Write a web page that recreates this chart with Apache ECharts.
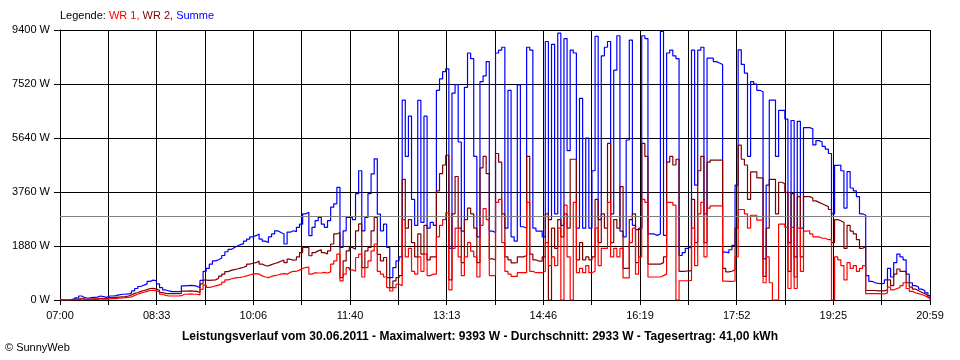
<!DOCTYPE html>
<html>
<head>
<meta charset="utf-8">
<script src="https://cdn.jsdelivr.net/npm/echarts@6/dist/echarts.min.js"></script>
<style>
html,body{margin:0;padding:0;background:#fff;}
#chart{width:960px;height:360px;}
</style>
</head>
<body>
<div id="chart"></div>
<script>
// Time slots: every 3 minutes from 07:00, last point at 20:59 (839 min)
const STEP_MIN = 3;
const END_MIN = 839;
const xTickLabels = ['07:00','08:33','10:06','11:40','13:13','14:46','16:19','17:52','19:25','20:59'];
const yMax = 9400;
const yInterval = 1880;
const average = 2933;

// Summe (W)
const summe = [
0,0,0,20,80,60,140,80,60,80,
90,100,140,120,90,140,140,150,180,200,
200,210,240,315,400,470,520,560,650,690,
670,560,430,350,315,290,290,290,300,490,
500,510,500,480,430,680,1000,1100,1250,1360,
1400,1460,1550,1680,1760,1820,1880,1930,1960,2050,
2120,2200,2240,2300,2120,2050,2000,2200,2300,2410,
2350,2300,1950,2360,2410,2380,2530,2640,3000,3050,
2240,2530,2760,2875,2640,2530,2760,3230,3350,3920,
1830,2410,2875,2875,2800,3700,4500,2410,2875,3700,
4390,4915,2990,2410,2640,1830,780,1130,1360,1500,
6960,5000,6400,3500,2600,6950,2700,6400,2500,2700,
2600,7300,7700,7950,8050,1800,7200,7500,5500,2400,
7400,8600,8400,5000,2200,7600,7800,8300,2400,2350,
8600,8700,8800,2500,7300,2200,2050,7490,2550,2500,
8800,8700,2500,2400,2400,2200,9000,2800,8900,3000,
9290,2600,9100,5200,8700,8600,2500,7020,2500,5640,
2500,4500,9180,2800,8500,8800,9000,3000,8000,9200,
2400,2200,5570,9050,2600,2450,2500,9200,9100,2300,
2300,2250,2300,9350,2250,8600,8700,8500,8400,1550,
1650,1800,1850,8700,4000,8700,8800,3000,8420,8420,
8300,8250,8200,1670,1640,1750,1900,4000,8710,8200,
7900,5000,7600,7520,7300,7250,1430,4000,6960,6960,
5000,6600,6600,6300,2000,6250,1500,6220,2500,6000,
6000,5960,5400,5550,5500,5350,5250,5100,3000,4690,
4700,4500,3200,4470,3900,3800,3600,3000,2950,850,
650,600,580,570,580,700,1100,800,1300,1600,
1500,1400,900,600,500,450,380,330,250,150,
60
];

// WR 2 (W) - dark red
const wr2 = [
0,0,0,0,30,20,60,30,20,30,
40,40,60,50,50,80,80,90,100,110,
120,140,180,230,260,300,330,360,400,410,
380,340,260,230,220,220,220,220,230,310,
310,320,310,300,260,560,690,680,690,700,
760,830,900,990,1030,1060,1080,1110,1140,1180,
1250,1280,1300,1360,1250,1200,1190,1230,1270,1300,
1350,1390,1300,1420,1390,1400,1500,1650,1830,1830,
1540,1650,1710,1750,1650,1600,1710,1950,2300,2350,
780,1360,1710,1830,1770,2410,2650,1130,1710,1830,
2410,2875,1590,1360,1480,780,430,664,780,850,
4200,2500,2800,2000,1500,2300,1600,2600,1400,1500,
1500,3800,4400,4700,5040,700,3000,4300,2500,1300,
2800,3200,3000,2500,1300,4600,5000,4400,1430,1400,
5100,4800,3000,1500,1400,1290,1300,1500,1500,1550,
5000,1600,1400,1350,1350,1500,3000,0,2500,1800,
2800,2200,3000,2500,4900,4900,1400,2000,1400,1500,
1400,1500,3500,2000,3000,2500,5450,2000,2800,2500,
3950,1100,1100,2800,3000,1300,2500,5450,5000,1250,
1250,1250,1250,1300,1500,4800,5000,4700,4900,1000,
1000,1013,1013,3500,2000,4500,5000,2000,4800,4870,
4870,4870,4870,1100,980,1000,1050,2500,5390,4900,
4700,3500,4460,4460,4250,4250,820,2500,4200,4200,
3000,4100,4050,3750,1000,3700,800,3600,1500,3600,
3600,3550,3450,3400,3350,3300,3250,3150,2000,2800,
2760,2700,1800,2600,2400,2300,2100,1800,1850,330,
330,330,320,320,320,350,700,500,900,1080,
1000,1000,600,450,380,320,270,220,160,80,
30
];

// WR 1 (W) - red
const wr1 = [
0,0,0,0,20,10,40,20,10,20,
20,20,40,30,30,40,50,50,60,70,
80,90,110,160,200,240,270,300,330,340,
320,280,200,160,140,140,140,140,150,200,
200,210,200,200,180,370,520,440,460,490,
520,550,620,700,730,760,780,790,810,840,
870,900,920,900,840,800,780,820,850,870,
900,920,900,960,1000,1000,1040,1100,1130,1150,
900,950,940,940,960,940,980,1250,1360,1600,
664,900,1130,1050,1000,1480,1600,800,1130,1360,
1710,1950,1000,900,800,430,314,430,550,500,
2800,1500,1800,1000,900,1500,1000,1600,850,900,
900,2200,2600,2800,3030,350,1800,2500,1500,850,
1500,2000,1700,1500,800,2600,3180,2800,850,850,
3400,3500,2000,1000,900,820,820,950,950,950,
3400,1000,950,950,950,1000,2000,1200,1500,1200,
2500,0,3300,1500,0,3400,950,1100,950,1200,
950,1000,2500,1200,1800,1800,3400,1500,1800,1500,
1800,770,770,2000,2500,900,1500,3500,3400,800,
800,800,800,850,900,3400,3400,3300,0,670,
670,670,680,2500,1200,3000,3400,1500,3200,3280,
3280,3280,3280,660,650,650,660,1500,3150,3150,
3000,2500,2950,2950,2780,2780,600,1500,600,0,
0,2640,2640,2530,400,2530,400,2500,1000,2400,
2410,2300,2200,2200,2150,2150,2100,2100,0,1500,
1400,1200,700,1300,1100,1200,1000,1100,1200,220,
220,220,220,210,210,250,450,350,400,430,
500,600,400,300,250,220,190,150,100,50,
20
];

const minutes = summe.map((_, i) => Math.min(i * STEP_MIN, END_MIN));
const pairs = arr => arr.map((v, i) => [minutes[i], v]);

const FONT = '"Liberation Sans", Arial, sans-serif';
const xInterval = END_MIN / 18;

const chart = echarts.init(document.getElementById('chart'), null, {renderer: 'canvas'});
chart.setOption({
  animation: false,
  backgroundColor: '#ffffff',
  grid: {left: 60, right: 30, top: 30, bottom: 60, outerBoundsMode: 'none', containLabel: false},
  xAxis: {
    type: 'value', min: 0, max: END_MIN, interval: xInterval,
    axisLine: {show: true, onZero: false, lineStyle: {color: '#000', width: 1}},
    axisTick: {show: true, length: 5, lineStyle: {color: '#000'}},
    splitLine: {show: true, lineStyle: {color: '#000', width: 1}},
    axisLabel: {
      color: '#000', fontFamily: FONT, fontSize: 11, margin: 10,
      showMinLabel: true, showMaxLabel: true,
      formatter: v => { const k = Math.round(v / xInterval); return (k % 2 === 0) ? (xTickLabels[k / 2] || '') : ''; }
    }
  },
  yAxis: {
    type: 'value', min: 0, max: yMax, interval: yInterval,
    axisLine: {show: true, lineStyle: {color: '#000', width: 1}},
    axisTick: {show: true, length: 6, lineStyle: {color: '#000'}},
    splitLine: {show: true, lineStyle: {color: '#000', width: 1}},
    axisLabel: {color: '#000', fontFamily: FONT, fontSize: 11, margin: 10, formatter: v => String(Math.round(v)) + ' W'}
  },
  series: [
    {name: 'Summe', type: 'line', step: 'end', symbol: 'none', sampling: null,
     data: pairs(summe), lineStyle: {color: '#0000ff', width: 1.2}, itemStyle: {color: '#0000ff'}, z: 2},
    {name: 'WR 2', type: 'line', step: 'end', symbol: 'none',
     data: pairs(wr2), lineStyle: {color: '#800000', width: 1.2}, itemStyle: {color: '#800000'}, z: 3},
    {name: 'WR 1', type: 'line', step: 'end', symbol: 'none',
     data: pairs(wr1), lineStyle: {color: '#ff0000', width: 1.2}, itemStyle: {color: '#ff0000'}, z: 4,
     markLine: {silent: true, symbol: 'none', label: {show: false},
       lineStyle: {color: '#808080', width: 1, type: 'solid'}, data: [{yAxis: average}]}}
  ],
  graphic: [
    {type: 'text', left: 60, top: 10, style: {
      text: '{k|Legende: }{r|WR 1, }{m|WR 2, }{b|Summe}',
      font: '11px ' + FONT,
      rich: {
        k: {fill: '#000', font: '11px ' + FONT},
        r: {fill: '#ff0000', font: '11px ' + FONT},
        m: {fill: '#800000', font: '11px ' + FONT},
        b: {fill: '#0000ff', font: '11px ' + FONT}
      }
    }},
    {type: 'text', left: 'center', top: 331, style: {
      text: 'Leistungsverlauf vom 30.06.2011 - Maximalwert: 9393 W - Durchschnitt: 2933 W - Tagesertrag: 41,00 kWh',
      font: 'bold 12px ' + FONT, fill: '#000'
    }},
    {type: 'text', left: 5, top: 342, style: {
      text: '\u00a9 SunnyWeb', font: '11px ' + FONT, fill: '#000'
    }}
  ]
});
</script>
</body>
</html>
